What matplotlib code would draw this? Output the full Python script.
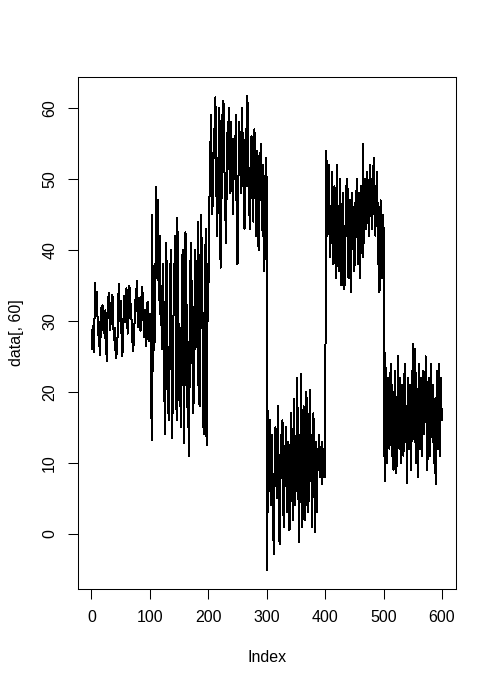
import numpy as np
import matplotlib
matplotlib.use("Agg")
from matplotlib import pyplot as plt

# column 60 of the data, six blocks of 100 values
seg1 = [26.0, 29.3, 27.1, 25.6, 28.4, 35.4, 33.0, 31.2, 34.1, 32.5,
        28.0, 30.4, 26.4, 27.8, 25.2, 29.6, 31.8, 30.5, 32.2, 29.4,
        28.3, 30.1, 27.6, 31.5, 29.2, 24.3, 27.0, 33.4, 31.9, 34.0,
        30.8, 28.7, 29.9, 32.6, 31.0, 33.7, 30.2, 28.5, 27.3, 29.0,
        26.1, 24.8, 27.5, 25.4, 28.9, 33.2, 35.2, 31.7, 30.0, 32.8,
        29.5, 26.9, 25.0, 27.9, 30.6, 33.5, 31.3, 29.8, 32.0, 34.6,
        30.9, 28.2, 29.7, 31.1, 35.0, 33.1, 30.3, 32.4, 28.8, 27.4,
        25.8, 28.1, 26.6, 30.7, 32.9, 31.4, 34.4, 35.6, 32.1, 29.1,
        30.5, 33.3, 31.6, 28.6, 30.0, 34.8, 32.3, 33.9, 30.4, 27.7,
        29.2, 31.5, 28.4, 26.5, 29.9, 32.7, 30.8, 27.2, 29.4, 31.0]

seg2 = [28.0, 31.0, 13.2, 45.0, 30.0, 23.0, 34.0, 38.0, 27.0, 41.0,
        48.9, 36.0, 43.0, 47.0, 33.0, 39.0, 42.0, 31.0, 35.0, 29.0,
        26.0, 33.0, 38.0, 24.0, 19.0, 14.0, 22.0, 41.0, 36.0, 29.0,
        17.0, 20.0, 16.0, 27.0, 37.0, 40.0, 32.0, 13.5, 18.0, 24.0,
        38.0, 35.0, 42.0, 30.0, 20.0, 16.0, 44.5, 39.0, 30.0, 21.0,
        18.0, 23.0, 15.0, 28.0, 34.0, 40.0, 33.0, 12.8, 19.0, 25.0,
        42.5, 36.0, 31.0, 20.0, 15.0, 27.0, 11.0, 22.0, 35.0, 41.0,
        38.0, 30.0, 24.0, 17.0, 19.0, 32.0, 26.0, 40.0, 29.0, 36.0,
        33.0, 21.0, 44.0, 27.0, 18.0, 25.0, 42.0, 45.0, 37.0, 30.0,
        20.0, 14.0, 28.0, 34.0, 40.0, 43.0, 12.5, 33.0, 38.0, 30.0]

seg3 = [44.0, 47.0, 52.0, 56.0, 59.0, 49.0, 45.0, 50.0, 54.0, 57.0,
        53.0, 61.5, 58.0, 48.0, 42.0, 46.0, 51.0, 55.0, 60.0, 52.0,
        37.5, 44.0, 49.0, 59.0, 56.0, 61.0, 54.0, 50.0, 47.0, 41.0,
        46.0, 52.0, 57.0, 55.0, 60.0, 53.0, 48.0, 50.0, 58.0, 55.0,
        51.0, 45.0, 49.0, 54.0, 56.0, 52.0, 59.0, 47.0, 50.0, 38.0,
        44.0, 53.0, 58.0, 55.0, 51.0, 48.0, 56.0, 60.0, 54.0, 50.0,
        46.0, 43.0, 52.0, 57.0, 53.0, 49.0, 61.7, 55.0, 51.0, 47.0,
        43.0, 48.0, 54.0, 56.0, 50.0, 46.0, 44.0, 52.0, 57.0, 53.0,
        49.0, 42.0, 47.0, 54.0, 51.0, 40.0, 45.0, 48.0, 53.0, 55.0,
        50.0, 46.0, 42.0, 52.0, 49.0, 37.0, 44.0, 51.0, 53.0, 49.0]

seg4 = [-5.1, 17.3, 13.0, 6.0, 9.0, 16.0, 11.0, 4.0, 14.0, 8.0,
        2.0, -2.8, 7.0, 10.0, 15.0, 12.0, 5.0, 8.0, 18.0, 13.0,
        3.0, -1.5, 6.0, 9.0, 14.0, 11.0, 16.0, 7.0, 1.0, 4.0,
        10.0, 12.0, 15.0, 8.0, 3.0, 6.0, 13.0, 11.0, 0.5, 9.0,
        14.0, 17.0, 12.0, 5.0, 2.0, 7.0, 19.0, 10.0, 4.0, 13.0,
        6.0, 22.0, 16.0, 9.0, -1.2, 3.0, 14.0, 8.0, 22.5, 12.0,
        1.0, 5.0, 18.0, 15.0, 10.0, 2.0, 7.0, 20.0, 13.0, 11.0,
        3.0, 6.0, 16.0, 20.3, 9.0, 14.0, 4.0, 1.0, 12.0, 17.0,
        8.0, 10.0, 0.2, 13.0, 7.0, 3.0, 11.0, 12.0, 9.0, 14.0,
        8.0, 12.0, 10.0, 13.0, 7.0, 9.0, 11.0, 12.0, 8.0, 13.0]

seg5 = [35.0, 54.0, 50.0, 42.0, 46.0, 52.0, 48.0, 39.0, 44.0, 41.0,
        47.0, 51.0, 43.0, 38.0, 45.0, 49.0, 44.0, 36.0, 40.0, 52.0,
        47.0, 42.0, 37.0, 41.0, 50.0, 45.0, 39.0, 35.0, 43.0, 48.0,
        46.0, 40.0, 34.5, 38.0, 44.0, 49.0, 42.0, 50.0, 45.0, 36.0,
        41.0, 47.0, 43.0, 34.0, 39.0, 48.0, 44.0, 46.0, 42.0, 37.0,
        40.0, 47.0, 45.0, 50.0, 44.0, 38.0, 42.0, 48.0, 46.0, 36.0,
        43.0, 49.0, 47.0, 39.0, 55.0, 45.0, 41.0, 50.0, 48.0, 43.0,
        44.0, 51.0, 49.0, 46.0, 42.0, 45.0, 52.0, 47.0, 50.0, 43.0,
        45.0, 48.0, 53.0, 46.0, 44.0, 42.0, 49.0, 47.0, 51.0, 44.0,
        38.0, 46.0, 34.0, 42.0, 47.0, 44.0, 36.0, 40.0, 45.0, 43.0]

seg6 = [16.0, 7.5, 25.5, 19.0, 14.0, 10.0, 22.0, 16.0, 20.0, 12.0,
        15.0, 24.0, 18.0, 11.0, 21.0, 17.0, 9.0, 13.0, 23.0, 19.0,
        14.0, 8.5, 16.0, 20.0, 25.0, 18.0, 12.0, 22.0, 17.0, 10.0,
        14.0, 21.0, 19.0, 11.0, 16.0, 24.0, 20.0, 13.0, 18.0, 7.2,
        15.0, 22.0, 19.0, 12.0, 17.0, 21.0, 9.0, 14.0, 23.0, 20.0,
        26.8, 18.0, 13.0, 26.0, 21.0, 10.0, 15.0, 19.0, 8.0, 24.0,
        17.0, 12.0, 16.0, 22.0, 20.0, 11.0, 18.0, 23.0, 14.0, 21.0,
        16.0, 25.0, 19.0, 12.0, 9.0, 17.0, 22.0, 14.0, 20.0, 11.0,
        24.0, 18.0, 15.0, 13.0, 21.0, 16.0, 10.0, 19.0, 7.0, 14.0,
        23.0, 20.0, 12.0, 17.0, 24.0, 11.0, 15.0, 22.0, 18.0, 16.0]

values = np.array(seg1 + seg2 + seg3 + seg4 + seg5 + seg6)
index = np.arange(1, len(values) + 1)

xticks = [0, 100, 200, 300, 400, 500, 600]
yticks = [0, 10, 20, 30, 40, 50, 60]

plt.rcParams['font.family'] = ['Liberation Sans', 'DejaVu Sans']
plt.rcParams['font.size'] = 11.5
plt.rcParams['path.simplify'] = False

W, H = 497, 686
fig = plt.figure(figsize=(W / 100, H / 100), dpi=100)
l, r, t, b = 78, 456, 77, 589
ax = fig.add_axes([l / W, (H - b) / H, (r - l) / W, (b - t) / H])

# R draws a 1px line without smoothing
ax.plot(index, values, color='black', linewidth=0.72, antialiased=False)

# R style limits: data range plus 4% each side
def pad(lo, hi):
    d = (hi - lo) * 0.04
    return lo - d, hi + d

ax.set_xlim(*pad(index.min(), index.max()))
ax.set_ylim(*pad(values.min(), values.max()))

ax.set_xticks(xticks)
ax.set_yticks(yticks)
ax.set_yticklabels([str(v) for v in yticks], rotation=90, va='center')
ax.tick_params(direction='out', length=7, width=0.75, pad=8, colors='black')
for s in ax.spines.values():
    s.set_linewidth(0.75)

ax.set_xlabel('Index')
ax.set_ylabel('data[, 60]')
ax.xaxis.set_label_coords(0.5, (b - 657) / (b - t))
ax.xaxis.label.set_va('center')
ax.yaxis.set_label_coords((16 - l) / (r - l), 0.5)
ax.yaxis.label.set_va('center')

fig.savefig('out.png', dpi=100)
